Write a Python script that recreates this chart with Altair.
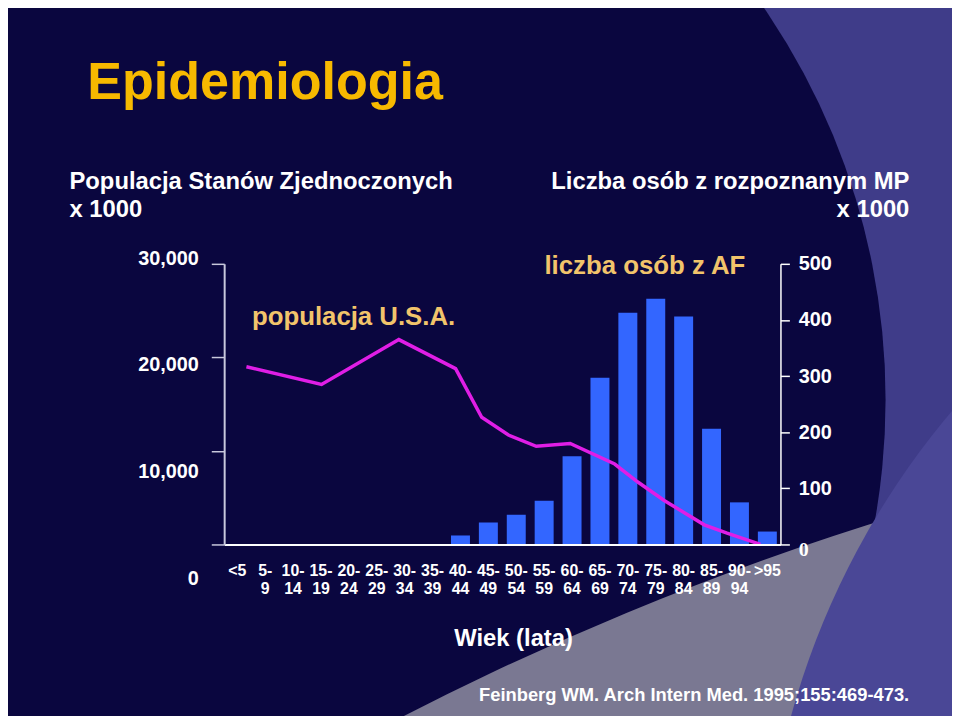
import altair as alt
import pandas as pd

# ---------------- data ----------------
categories = ["<5", "5-9", "10-14", "15-19", "20-24", "25-29", "30-34", "35-39",
              "40-44", "45-49", "50-54", "55-59", "60-64", "65-69", "70-74",
              "75-79", "80-84", "85-89", "90-94", ">95"]
# number of people with AF (x 1000), right axis
af_counts = [None, None, None, None, None, None, None, None,
             16, 39, 53, 78, 157, 297, 413, 438, 406, 206, 75, 23]
# US population (x 1000), left axis, drawn against age in years
pop_age = [4.0, 17.5, 31.4, 41.6, 46.3, 51.1, 56.1, 62.2, 70.2, 74.3, 79.1, 86.3, 90.4, 96.4]
pop_values = [19000, 17100, 21900, 18800, 13600, 11700, 10500, 10800, 8600, 6700, 4700, 2100, 1200, 0]
left_ticks = [0, 10000, 20000, 30000]
right_ticks = [0, 100, 200, 300, 400, 500]

df_bar = pd.DataFrame({"wiek": categories, "af": af_counts})
df_line = pd.DataFrame({"age": pop_age, "pop": pop_values})
one = pd.DataFrame({"k": [1]})

FONT = "Liberation Sans"
WHITE = "#FFFFFF"

# ---------------- slide background shapes ----------------
def disc(cx, cy, r, color):
    # Vega circle symbol: radius = sqrt(size) / 2
    return alt.Chart(one).mark_circle(
        size=4 * r * r, color=color, opacity=1, strokeWidth=0
    ).encode(x=alt.value(cx), y=alt.value(cy))

bg_dark = disc(-31, 137, 698, "#0A063F")
bg_gray = disc(1557, 3132, 3008, "#7A7892")
bg_purple = disc(1348, 669, 805, "#4A4796")

# ---------------- data layers ----------------
bars = alt.Chart(df_bar).mark_bar(color="#3366FF").encode(
    x=alt.X("wiek:N", sort=categories,
            scale=alt.Scale(domain=categories, paddingInner=0.32, paddingOuter=0.13),
            axis=alt.Axis(title=None, ticks=False, labelAngle=0,
                          labelExpr="indexof(datum.label, '-') > 0 ? [split(datum.label, '-')[0] + '-', split(datum.label, '-')[1]] : datum.label",
                          labelFont=FONT, labelFontSize=16, labelFontWeight="bold",
                          labelColor=WHITE, labelBaseline="top", labelPadding=18,
                          labelLineHeight=18, labelOverlap=False,
                          domainColor=WHITE, domainWidth=2, zindex=1)),
    y=alt.Y("af:Q", scale=alt.Scale(domain=[0, 500], nice=False),
            axis=alt.Axis(orient="right", title=None, values=right_ticks, grid=False,
                          tickSize=9, tickColor=WHITE, tickWidth=1.5,
                          domainColor=WHITE, domainWidth=1.5,
                          labelFont={"condition": {"test": "datum.value == 0", "value": "Liberation Serif"}, "value": FONT},
                          labelOffset={"condition": {"test": "datum.value == 0", "value": 5}, "value": 0},
                          labelFontSize=20, labelFontWeight="bold", labelColor=WHITE,
                          labelPadding=9, zindex=1)),
)

line = alt.Chart(df_line).mark_line(color="#E01EE6", strokeWidth=3.5).encode(
    x=alt.X("age:Q", scale=alt.Scale(domain=[0, 100], nice=False, zero=False), axis=None),
    y=alt.Y("pop:Q", scale=alt.Scale(domain=[0, 30000], nice=False),
            axis=alt.Axis(orient="left", title=None, values=left_ticks, format=",d", grid=False,
                          tickSize=13, tickColor="#C8C8DC", tickWidth=1.5,
                          domainColor="#C8C8DC", domainWidth=2,
                          labelOffset={"condition": [
                              {"test": "datum.value == 0", "value": 34},
                              {"test": "datum.value == 10000", "value": 21},
                              {"test": "datum.value == 20000", "value": 7}], "value": -5},
                          labelFont=FONT, labelFontSize=20, labelFontWeight="bold",
                          labelColor=WHITE, labelPadding=13, zindex=1)),
)

# ---------------- texts ----------------
def text(t, x, y, size, color, align="left", line_height=None):
    kw = dict(text=t, align=align, baseline="alphabetic", fontSize=size,
              fontWeight="bold", color=color, font=FONT)
    if line_height is not None:
        kw["lineHeight"] = line_height
    return alt.Chart(one).mark_text(**kw).encode(x=alt.value(x), y=alt.value(y))

t_title = text("Epidemiologia", -138, -166, 52.5, "#F7B900")
t_left = text(["Populacja Stanów Zjednoczonych", "x 1000"], -156, -75, 24, WHITE, line_height=28)
t_right = text(["Liczba osób z rozpoznanym MP", "x 1000"], 691, -75, 24, WHITE, align="right", line_height=28)
t_af = text("liczba osób z AF", 323, 10, 26, "#F2C46B")
t_pop = text("populacja U.S.A.", 28, 62, 26, "#F2C46B")
t_xlab = text("Wiek (lata)", 232, 385, 24, WHITE)
t_src = text("Feinberg WM. Arch Intern Med. 1995;155:469-473.", 257, 441, 18.5, WHITE)

chart = alt.layer(
    bg_dark, bg_gray, bg_purple, bars, line,
    t_title, t_left, t_right, t_af, t_pop, t_xlab, t_src
).resolve_scale(
    x="independent", y="independent"
).properties(
    width=561, height=283,
    autosize=alt.AutoSizeParams(type="none"),
    padding={"left": 218, "top": 255, "right": 173, "bottom": 170},
).configure(
    background="#3F3C89"
).configure_view(
    strokeWidth=0
)

chart.save("out.html", embed_options={"renderer": "svg", "actions": False})
